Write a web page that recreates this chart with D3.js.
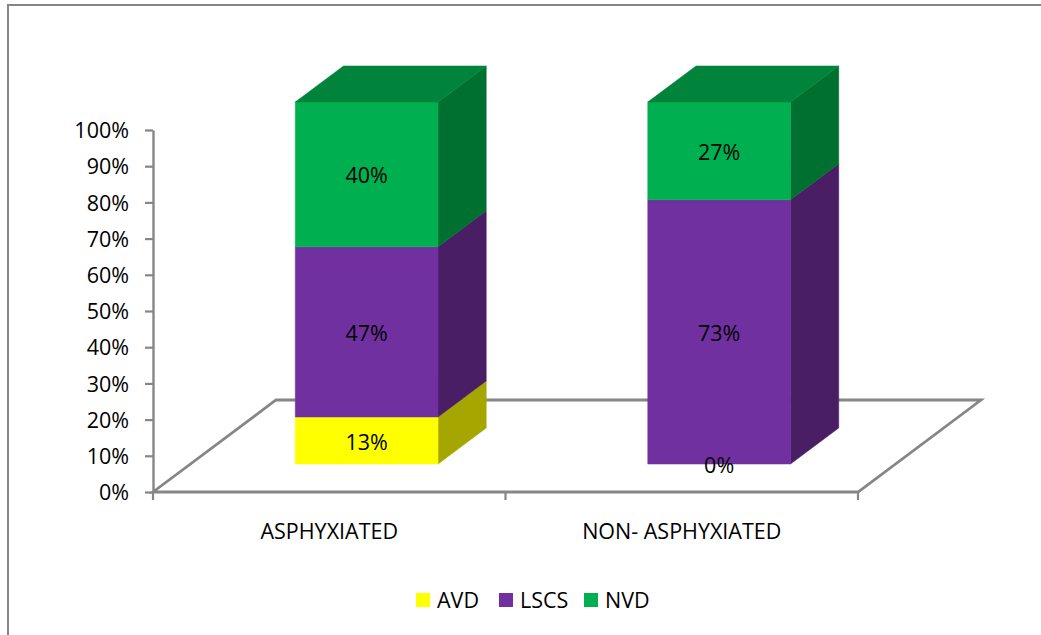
<!DOCTYPE html>
<html>
<head>
<meta charset="utf-8">
<script src="https://cdn.jsdelivr.net/npm/d3@7"></script>
<style>
  html, body { margin: 0; padding: 0; background: #fff; }
  svg { display: block; }
  text { font-family: "Open Sans", sans-serif; fill: #000; }
</style>
</head>
<body>
<svg id="chart" width="1041" height="635"></svg>
<script>
// Delivery mode by asphyxia status (percent of each group)
const categories = ["ASPHYXIATED", "NON- ASPHYXIATED"];
const seriesNames = ["AVD", "LSCS", "NVD"];
const avdValues = [13, 0];
const lscsValues = [47, 73];
const nvdValues = [40, 27];
const yTickValues = [0, 10, 20, 30, 40, 50, 60, 70, 80, 90, 100];

// Face colours: front, side, top
const frontColors = { AVD: "#FFFF00", LSCS: "#7030A0", NVD: "#00B050" };
const sideColors  = { AVD: "#A6A600", LSCS: "#4A1E64", NVD: "#007031" };
const topColors   = { AVD: "#C8C800", LSCS: "#59257F", NVD: "#00843C" };

const fontSize = 21.5;

const rows = categories.map((c, i) => ({
  category: c, AVD: avdValues[i], LSCS: lscsValues[i], NVD: nvdValues[i]
}));
const stacked = d3.stack().keys(seriesNames)(rows);

const svg = d3.select("#chart");
const axisColor = "#868686";

// Chart frame
svg.append("rect")
  .attr("x", 8).attr("y", 5)
  .attr("width", 1060).attr("height", 660)
  .attr("fill", "#fff")
  .attr("stroke", axisColor).attr("stroke-width", 2);

// Scales: front plane, plus a depth direction for the 3-D floor
const x = d3.scaleBand().domain(categories).range([153, 858]).padding(0);
const y = d3.scaleLinear().domain([0, 100]).range([492, 130]);
const depth = { dx: 123, dy: -92 };
const zFront = 0.304, zBack = 0.696;
const barFrac = 0.405;
const proj = (px, v, z) => [px + z * depth.dx, y(v) + z * depth.dy];

// Floor outline
const floorPts = [
  proj(x.range()[0], 0, 0), proj(x.range()[1], 0, 0),
  proj(x.range()[1], 0, 1), proj(x.range()[0], 0, 1)
];
svg.append("path")
  .attr("d", d3.line()(floorPts) + "Z")
  .attr("fill", "none")
  .attr("stroke", axisColor).attr("stroke-width", 2.8)
  .attr("stroke-linejoin", "miter");

// Category ticks at band edges, below the floor front edge
const edges = categories.map(c => x(c)).concat([x.range()[1]]);
svg.append("g").selectAll("line").data(edges).join("line")
  .attr("x1", d => d).attr("x2", d => d)
  .attr("y1", y(0)).attr("y2", y(0) + 8)
  .attr("stroke", axisColor).attr("stroke-width", 2.2);

// Value axis
const yAxis = svg.append("g")
  .attr("transform", `translate(${x.range()[0]},0)`)
  .call(d3.axisLeft(y).tickValues(yTickValues).tickFormat(d => d + "%")
    .tickSize(8).tickSizeOuter(0).tickPadding(16));
yAxis.select(".domain").attr("stroke", axisColor).attr("stroke-width", 2.4);
yAxis.selectAll(".tick line").attr("stroke", axisColor).attr("stroke-width", 2.2);
yAxis.selectAll(".tick text")
  .attr("font-size", fontSize).attr("font-family", "Open Sans, sans-serif")
  .attr("fill", "#000").attr("dy", "0.36em");

// Category labels
svg.append("g").selectAll("text").data(categories).join("text")
  .attr("x", d => x(d) + x.bandwidth() / 2)
  .attr("y", 539)
  .attr("text-anchor", "middle")
  .attr("font-size", fontSize)
  .text(d => d);

// Bars
const barW = x.bandwidth() * barFrac;
const barsG = svg.append("g");
categories.forEach((cat, ci) => {
  const x0 = x(cat) + (x.bandwidth() - barW) / 2;
  const x1 = x0 + barW;
  stacked.forEach((layer, li) => {
    const key = layer.key;
    const [v0, v1] = layer[ci];
    if (v1 - v0 <= 0) return;
    const isTop = li === stacked.length - 1 ||
      stacked.slice(li + 1).every(l => l[ci][1] - l[ci][0] <= 0);
    const front = [proj(x0, v0, zFront), proj(x1, v0, zFront), proj(x1, v1, zFront), proj(x0, v1, zFront)];
    const side = [proj(x1, v0, zFront), proj(x1, v0, zBack), proj(x1, v1, zBack), proj(x1, v1, zFront)];
    barsG.append("path").attr("d", d3.line()(side) + "Z")
      .attr("fill", sideColors[key]).attr("stroke", sideColors[key]).attr("stroke-width", 0.5);
    barsG.append("path").attr("d", d3.line()(front) + "Z")
      .attr("fill", frontColors[key]).attr("stroke", frontColors[key]).attr("stroke-width", 0.5);
    if (isTop) {
      const top = [proj(x0, v1, zFront), proj(x1, v1, zFront), proj(x1, v1, zBack), proj(x0, v1, zBack)];
      barsG.append("path").attr("d", d3.line()(top) + "Z")
        .attr("fill", topColors[key]).attr("stroke", topColors[key]).attr("stroke-width", 0.5);
    }
  });
});

// Value labels at the centre of each front face
const labelG = svg.append("g");
categories.forEach((cat, ci) => {
  const x0 = x(cat) + (x.bandwidth() - barW) / 2;
  stacked.forEach(layer => {
    const [v0, v1] = layer[ci];
    const [cx, cy] = proj(x0 + barW / 2, (v0 + v1) / 2, zFront);
    labelG.append("text")
      .attr("x", cx).attr("y", cy)
      .attr("dy", "0.42em")
      .attr("text-anchor", "middle")
      .attr("font-size", fontSize)
      .text(Math.round(v1 - v0) + "%");
  });
});

// Legend
const legendItems = [
  { key: "AVD", x: 416 }, { key: "LSCS", x: 499 }, { key: "NVD", x: 584 }
];
const legend = svg.append("g").selectAll("g").data(legendItems).join("g")
  .attr("transform", d => `translate(${d.x},593)`);
legend.append("rect").attr("width", 14).attr("height", 14)
  .attr("fill", d => frontColors[d.key]);
legend.append("text").attr("x", 21).attr("y", 14.5)
  .attr("font-size", fontSize).text(d => d.key);
</script>
</body>
</html>
